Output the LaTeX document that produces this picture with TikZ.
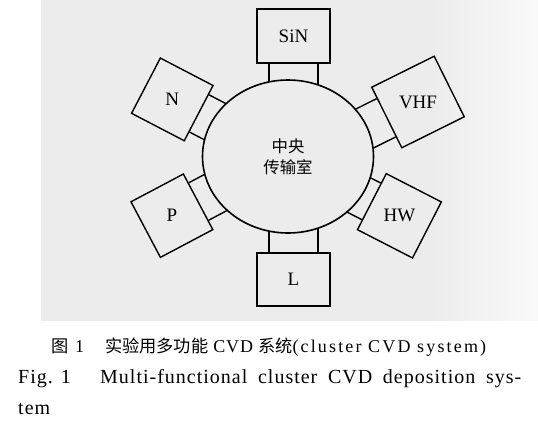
\documentclass[tikz,border=0pt]{standalone}
\usepackage{fontspec}
\setmainfont{Liberation Serif}
\newfontfamily\cjk{Noto Sans CJK SC}
\newfontfamily\capfont[LetterSpace=5]{Liberation Serif}
\newfontfamily\capwide[LetterSpace=12]{Liberation Serif}
\usetikzlibrary{calc, shapes.geometric}

\definecolor{paper}{gray}{0.925}
\tikzset{
    chamber/.style={draw, line width=1.4pt, inner sep=0pt, font=\fontsize{19}{21}\selectfont},
    neck/.style={line width=1.4pt},
    caption/.style={anchor=base west, inner sep=0pt},
}

\begin{document}
\begin{tikzpicture}[x=1pt, y=1pt]
        \useasboundingbox (0,0) rectangle (538,-424);
        \fill[paper] (41,0) rectangle (430,-320.7);
        \shade[left color=paper, right color=paper!30] (430,0) rectangle (538,-320.7);

        % central transfer chamber
        \node[draw, ellipse, line width=1.6pt, minimum width=171pt, minimum height=153pt, inner sep=0pt,
              align=center, font=\cjk\fontsize{16.4}{21}\selectfont] (hub) at (288,-156.5) {中央\\传输室};

        % process chambers
        \node[chamber, rotate=90, minimum width=54pt, minimum height=73pt] (SiN) at (293.5,-36) {\rotatebox{-90}{SiN}};
        \node[chamber, rotate=-90, minimum width=53pt, minimum height=73pt] (L) at (293.5,-279.5) {\rotatebox{90}{L}};
        \node[chamber, rotate=152.5, minimum width=59.4pt, minimum height=62.3pt] (N) at (172.3,-99.4) {\rotatebox{-152.5}{N}};
        \node[chamber, rotate=-152.1, minimum width=59.3pt, minimum height=62.9pt] (P) at (171.9,-215.7) {\rotatebox{152.1}{P}};
        \node[chamber, rotate=26.4, minimum width=69.7pt, minimum height=67.6pt] (VHF) at (418,-102) {\rotatebox{-26.4}{VHF}};
        \node[chamber, rotate=-27.2, minimum width=61.9pt, minimum height=63pt] (HW) at (399.4,-215.8) {\rotatebox{27.2}{HW}};

        % gate valves
        \begin{scope}[even odd rule]
            \clip (0,0) rectangle (538,-424) (hub.center) ellipse (85.5 and 76.5);
            \draw[neck] ($(SiN.north west)!.17!(SiN.south west)$) -- ++(-90:35);
            \draw[neck] ($(SiN.north west)!.83!(SiN.south west)$) -- ++(-90:35);
            \draw[neck] ($(L.north west)!.17!(L.south west)$) -- ++(90:35);
            \draw[neck] ($(L.north west)!.83!(L.south west)$) -- ++(90:35);
            \draw[neck] ($(N.north west)!.17!(N.south west)$) -- ++(-27.5:35);
            \draw[neck] ($(N.north west)!.83!(N.south west)$) -- ++(-27.5:35);
            \draw[neck] ($(P.north west)!.17!(P.south west)$) -- ++(27.9:35);
            \draw[neck] ($(P.north west)!.83!(P.south west)$) -- ++(27.9:35);
            \draw[neck] ($(VHF.north west)!.19!(VHF.south west)$) -- ++(206.4:35);
            \draw[neck] ($(VHF.north west)!.81!(VHF.south west)$) -- ++(206.4:35);
            \draw[neck] ($(HW.north west)!.18!(HW.south west)$) -- ++(152.8:35);
            \draw[neck] ($(HW.north west)!.82!(HW.south west)$) -- ++(152.8:35);
        \end{scope}

        % caption
        \node[caption, font=\fontsize{18}{20}\selectfont] (cap1) at (51.7,-352.5)
            {{\cjk\fontsize{17.2}{20}\selectfont 图}\hspace{6pt}{\capfont 1}\hspace{21pt}{\cjk\fontsize{17.2}{20}\selectfont 实验用多功能}\hspace{5pt}{\capfont CVD}\hspace{5pt}{\cjk\fontsize{17.2}{20}\selectfont 系统}{\capwide (cluster CVD system)}};
        \node[caption, font=\fontsize{20}{22}\selectfont] (cap2) at (18,-383.3) {\capfont Fig. 1};
        \node[caption, font=\fontsize{20}{22}\selectfont] (cap2b) at (100,-383.3)
            {\makebox[421pt][s]{\capfont Multi-functional cluster CVD deposition sys-}};
        \node[caption, font=\fontsize{20}{22}\selectfont] (cap3) at (18,-414.7) {\capfont tem};
\end{tikzpicture}
\end{document}
